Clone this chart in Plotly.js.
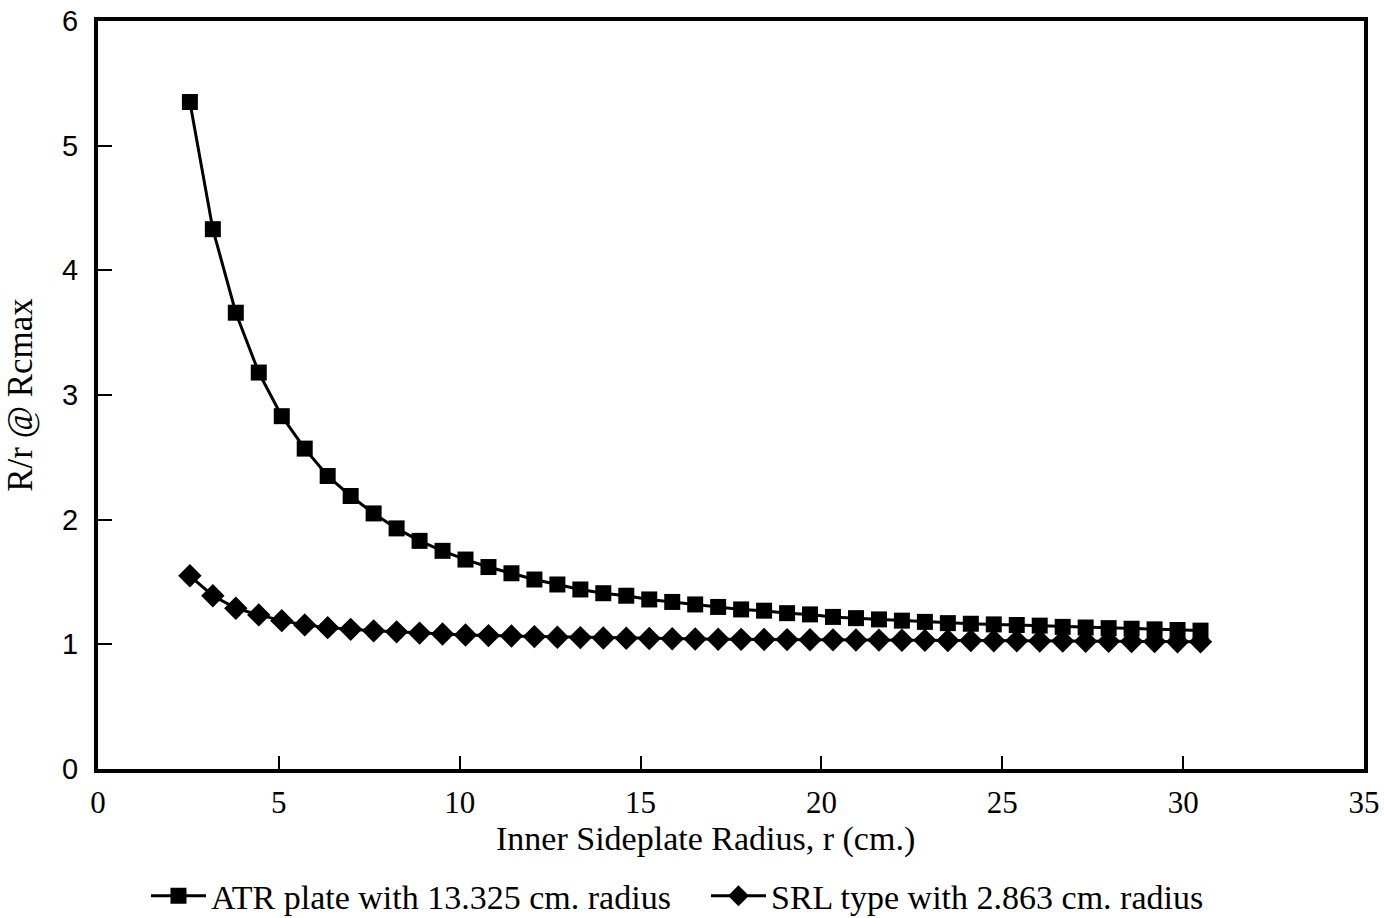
<!DOCTYPE html>
<html>
<head>
<meta charset="utf-8">
<script src="https://cdn.plot.ly/plotly-3.0.1.min.js"></script>
<style>
  html, body { margin: 0; padding: 0; background: #ffffff; }
  #chart { width: 1384px; height: 918px; }
</style>
</head>
<body>
<div id="chart"></div>
<script>
// Inner sideplate radius r (cm)
const radiusCm = [2.54, 3.175, 3.81, 4.445, 5.08, 5.715, 6.35, 6.985, 7.62, 8.255,
  8.89, 9.525, 10.16, 10.795, 11.43, 12.065, 12.7, 13.335, 13.97, 14.605,
  15.24, 15.875, 16.51, 17.145, 17.78, 18.415, 19.05, 19.685, 20.32, 20.955,
  21.59, 22.225, 22.86, 23.495, 24.13, 24.765, 25.4, 26.035, 26.67, 27.305,
  27.94, 28.575, 29.21, 29.845, 30.48];

// R/r @ Rcmax, ATR plate with 13.325 cm radius
const atrValues = [5.35, 4.33, 3.66, 3.18, 2.83, 2.57, 2.35, 2.19, 2.05, 1.93,
  1.83, 1.75, 1.68, 1.62, 1.57, 1.52, 1.48, 1.44, 1.41, 1.39,
  1.36, 1.34, 1.32, 1.30, 1.28, 1.27, 1.25, 1.24, 1.22, 1.21,
  1.20, 1.19, 1.18, 1.17, 1.165, 1.16, 1.155, 1.15, 1.14, 1.135,
  1.13, 1.125, 1.12, 1.115, 1.11];

// R/r @ Rcmax, SRL type with 2.863 cm radius
const srlValues = [1.55, 1.39, 1.29, 1.236, 1.19, 1.156, 1.134, 1.12, 1.108, 1.10,
  1.09, 1.083, 1.075, 1.07, 1.067, 1.062, 1.057, 1.054, 1.051, 1.049,
  1.047, 1.045, 1.043, 1.041, 1.04, 1.039, 1.038, 1.037, 1.036, 1.035,
  1.034, 1.033, 1.032, 1.031, 1.03, 1.029, 1.028, 1.027, 1.026, 1.025,
  1.024, 1.023, 1.022, 1.021, 1.02];

const seriesNames = ["ATR plate with 13.325 cm. radius", "SRL type with 2.863 cm. radius"];
const xTicks = [0, 5, 10, 15, 20, 25, 30, 35];
const yTicks = [0, 1, 2, 3, 4, 5, 6];
const xTitle = "Inner Sideplate Radius, r (cm.)";
const yTitle = "R/r @ Rcmax";

const serif = "Liberation Serif, Times New Roman, serif";
const sans = "Liberation Sans, Arial, sans-serif";

const traces = [
  {
    x: radiusCm, y: atrValues, name: seriesNames[0],
    type: "scatter", mode: "lines+markers",
    line: { color: "#000000", width: 3 },
    marker: { symbol: "square", size: 16, color: "#000000" }
  },
  {
    x: radiusCm, y: srlValues, name: seriesNames[1],
    type: "scatter", mode: "lines+markers",
    line: { color: "#000000", width: 3 },
    marker: { symbol: "diamond", size: 18, color: "#000000" }
  }
];

const layout = {
  width: 1384, height: 918,
  paper_bgcolor: "#ffffff", plot_bgcolor: "#ffffff",
  margin: { l: 98, r: 20, t: 21, b: 149, pad: 0, autoexpand: false },
  font: { family: serif, color: "#000000", size: 32 },
  showlegend: true,
  legend: {
    orientation: "h", x: 0.0379, xanchor: "left", y: -0.170, yanchor: "middle",
    font: { family: serif, size: 34, color: "#000000" },
    itemwidth: 55, entrywidth: 490, entrywidthmode: "pixels",
    bgcolor: "rgba(0,0,0,0)"
  },
  xaxis: {
    range: [0, 35], tickmode: "array", tickvals: xTicks,
    ticks: "inside", ticklen: 13, tickwidth: 2, tickcolor: "#000000",
    showline: true, linecolor: "#000000", linewidth: 4, mirror: true,
    showgrid: false, zeroline: false, automargin: false,
    tickfont: { family: serif, size: 31, color: "#000000" },
    ticklabelstandoff: 3
  },
  yaxis: {
    range: [0, 6], tickmode: "array", tickvals: yTicks,
    ticks: "inside", ticklen: 14, tickwidth: 2, tickcolor: "#000000",
    showline: true, linecolor: "#000000", linewidth: 4, mirror: true,
    showgrid: false, zeroline: false, automargin: false,
    tickfont: { family: sans, size: 29, color: "#000000" },
    ticklabelstandoff: 10,
    title: { text: yTitle, font: { family: serif, size: 35, color: "#000000" }, standoff: 20 }
  },
  annotations: [
    {
      text: xTitle, xref: "paper", yref: "paper",
      x: 0.4795, y: -0.0936, xanchor: "center", yanchor: "middle",
      showarrow: false, font: { family: serif, size: 34, color: "#000000" }
    }
  ]
};

Plotly.newPlot("chart", traces, layout, { displayModeBar: false, staticPlot: true });
</script>
</body>
</html>
